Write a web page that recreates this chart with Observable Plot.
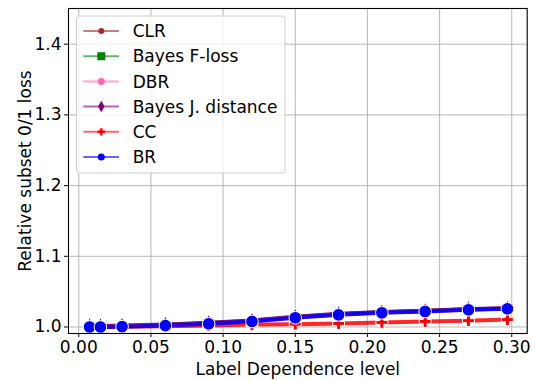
<!DOCTYPE html>
<html>
<head>
<meta charset="utf-8">
<script src="https://cdn.jsdelivr.net/npm/d3@7"></script>
<script src="https://cdn.jsdelivr.net/npm/@observablehq/plot@0.6"></script>
<style>
  body { margin: 0; background: white; }
  #wrap { position: relative; width: 535px; height: 380px; font-family: "DejaVu Sans", sans-serif; }
  #wrap svg { position: absolute; left: 0; top: 0; }
</style>
</head>
<body>
<div id="wrap"></div>
<script>
// ---- data ----
const labelDependence = [0.0075, 0.015, 0.03, 0.06, 0.09, 0.12, 0.15, 0.18, 0.21, 0.24, 0.27, 0.297];
const seriesNames = ["CLR", "Bayes F-loss", "DBR", "Bayes J. distance", "CC", "BR"];
const clr    = [1.0008, 1.0008, 1.0012, 1.0028, 1.0053, 1.0086, 1.0138, 1.0179, 1.0207, 1.0226, 1.0249, 1.0262];
const bayesF = [1.001, 1.001, 1.0015, 1.003, 1.0055, 1.0088, 1.014, 1.018, 1.021, 1.0228, 1.025, 1.0263];
const dbr    = [1.0005, 1.0005, 1.001, 1.0025, 1.005, 1.0083, 1.0135, 1.0176, 1.0205, 1.0224, 1.0247, 1.026];
const bayesJ = [1.0015, 1.0015, 1.002, 1.0035, 1.006, 1.0093, 1.0145, 1.0186, 1.0213, 1.023, 1.0253, 1.0265];
const cc     = [1.000, 1.000, 1.0005, 1.001, 1.002, 1.0035, 1.004, 1.005, 1.0065, 1.0078, 1.009, 1.0105];
const br     = [1.000, 1.000, 1.0005, 1.002, 1.0045, 1.0078, 1.013, 1.0172, 1.020, 1.0219, 1.0243, 1.0257];
const xTicks = [0.00, 0.05, 0.10, 0.15, 0.20, 0.25, 0.30];
const yTicks = [1.0, 1.1, 1.2, 1.3, 1.4];

// ---- styles ----
const seriesValues = [clr, bayesF, dbr, bayesJ, cc, br];
const styles = [
  {line: "#a52a2a", fill: "#a52a2a", symbol: "circle", r: 3.5, lr: 3},
  {line: "#008000", fill: "#008000", symbol: "square", r: 4.5, lr: 4},
  {line: "#ff69b4", fill: "#ff69b4", symbol: "circle", r: 4.5, lr: 3.5},
  {line: "#800080", fill: "#800080", symbol: "diamond", r: 5, lr: 4},
  {line: "#ff0000", fill: "#ff0000", symbol: "cross", r: 5, lr: 3.5},
  {line: "#0000ff", fill: "#0000ff", symbol: "circle", r: 6.3, lr: 3.5}
];

const rows = seriesNames.map((name, i) =>
  labelDependence.map((x, j) => ({series: name, x, y: seriesValues[i][j]})));

const marks = [
  Plot.gridX(xTicks, {stroke: "#b0b0b0", strokeOpacity: 1, strokeWidth: 0.9}),
  Plot.gridY(yTicks, {stroke: "#b0b0b0", strokeOpacity: 1, strokeWidth: 0.9})
];
rows.forEach((data, i) => {
  const s = styles[i];
  marks.push(Plot.line(data, {x: "x", y: "y", stroke: s.line, strokeWidth: 4, strokeOpacity: 0.85}));
  marks.push(Plot.dot(data, {x: "x", y: "y", symbol: s.symbol, r: s.r, fill: s.fill, stroke: "white", strokeWidth: 1}));
});
marks.push(
  Plot.frame({stroke: "black", strokeWidth: 1.1}),
  Plot.axisX(xTicks, {tickFormat: d3.format(".2f"), tickSize: 4, tickPadding: 3, fontSize: 17,
    label: "Label Dependence level", labelAnchor: "center", labelOffset: 41, labelArrow: "none", color: "black"}),
  Plot.axisY(yTicks, {tickFormat: d3.format(".1f"), tickSize: 4, tickPadding: 3, fontSize: 17,
    label: "Relative subset 0/1 loss", labelAnchor: "center", labelOffset: 50, labelArrow: "none", color: "black"})
);

const chart = Plot.plot({
  width: 535,
  height: 380,
  marginLeft: 68,
  marginRight: 8.3,
  marginTop: 8,
  marginBottom: 47,
  style: {fontFamily: "DejaVu Sans, sans-serif", fontSize: "17px", color: "black", background: "white"},
  x: {domain: [-0.00713, 0.3107]},
  y: {domain: [0.9908, 1.4505]},
  marks
});
document.getElementById("wrap").appendChild(chart);

// ---- legend overlay ----
const lg = d3.select("#wrap").append("svg")
  .attr("width", 535).attr("height", 380)
  .style("pointer-events", "none")
  .style("font-family", "DejaVu Sans, sans-serif");
lg.append("rect")
  .attr("x", 76.5).attr("y", 16).attr("width", 208.5).attr("height", 157)
  .attr("rx", 3).attr("fill", "white").attr("fill-opacity", 0.8)
  .attr("stroke", "#d0d0d0").attr("stroke-width", 1);
const symMap = {circle: d3.symbolCircle, square: d3.symbolSquare, diamond: d3.symbolDiamond, cross: d3.symbolCross};
seriesNames.forEach((name, i) => {
  const s = styles[i];
  const cy = 31 + i * 25.2;
  lg.append("line").attr("x1", 83.3).attr("x2", 119).attr("y1", cy).attr("y2", cy)
    .attr("stroke", s.line).attr("stroke-width", 2).attr("stroke-opacity", 0.6);
  const area = s.symbol === "circle" ? Math.PI * s.lr * s.lr : (s.symbol === "square" ? (2 * s.lr) ** 2 : 2 * s.lr * s.lr * 1.2);
  lg.append("path").attr("d", d3.symbol(symMap[s.symbol], area)())
    .attr("transform", `translate(101.3,${cy})`).attr("fill", s.fill);
  lg.append("text").attr("x", 132.7).attr("y", cy).attr("dy", "0.36em")
    .attr("font-size", 17).attr("fill", "black").text(name);
});
</script>
</body>
</html>
